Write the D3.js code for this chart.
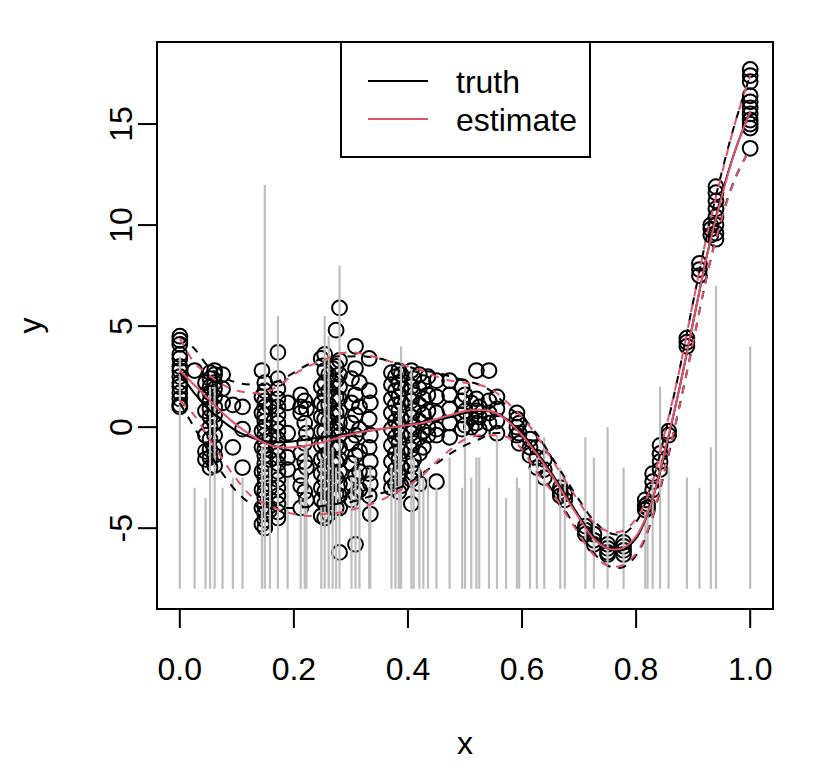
<!DOCTYPE html>
<html><head><meta charset="utf-8">
<script src="https://cdn.jsdelivr.net/npm/d3@7"></script>
<style>body{margin:0;background:#fff}svg{display:block}text{font-family:"Liberation Sans",Arial,Helvetica,sans-serif;fill:#000}</style>
</head><body><svg id="c" width="816" height="768"></svg>
<script>
// ---------- data ----------
const xTicks = [0, 0.2, 0.4, 0.6, 0.8, 1.0];
const yTicks = [-5, 0, 5, 10, 15];
const legendLabels = ["truth", "estimate"];

// weight "needles" (x, top value; drawn up from -8)
const wX   = [0.000,0.026,0.045,0.053,0.061,0.075,0.093,0.110,0.144,0.149,0.158,0.172,0.189,0.212,0.219,0.222,0.248,0.254,0.261,0.268,0.274,0.280,0.301,0.308,0.315,0.332,0.334,0.371,0.378,0.384,0.388,0.406,0.410,0.420,0.427,0.435,0.450,0.473,0.495,0.500,0.511,0.520,0.525,0.542,0.556,0.572,0.591,0.595,0.614,0.626,0.639,0.667,0.675,0.711,0.726,0.750,0.778,0.816,0.820,0.829,0.842,0.857,0.889,0.911,0.931,0.940,1.000];
const wTop = [3.5,-3.0,-3.5,2.0,2.0,-3.0,-2.5,-2.5,-1.0,12.0,-2.0,5.5,-2.5,-3.5,-1.0,0.5,-1.5,5.5,4.5,-1.0,-2.0,8.0,-2.5,-1.5,-2.0,-3.0,-2.0,-2.0,-1.0,1.0,4.0,3.0,-1.5,-2.0,-2.5,-2.5,-3.0,-1.5,-3.0,2.0,-2.5,-1.5,-1.5,-3.0,-0.4,-3.5,-2.5,-3.0,-2.0,-1.5,-0.5,-2.0,-2.5,-0.5,-1.5,0.0,-2.0,-4.2,-4.0,-2.5,2.0,-2.0,-2.5,-3.0,-1.0,7.0,4.0];

// observations: one x per group, list of y
const ptX = [0.000,0.026,0.045,0.053,0.061,0.075,0.093,0.110,0.144,0.149,0.158,0.172,0.189,0.212,0.219,0.222,0.248,0.254,0.261,0.268,0.274,0.280,0.301,0.308,0.315,0.332,0.334,0.371,0.378,0.384,0.388,0.406,0.410,0.420,0.427,0.435,0.450,0.473,0.495,0.500,0.511,0.520,0.525,0.542,0.556,0.591,0.595,0.614,0.626,0.639,0.667,0.675,0.711,0.726,0.750,0.778,0.816,0.820,0.829,0.842,0.857,0.889,0.911,0.931,0.940,1.000];
const ptY = [
 [4.5,4.3,4.1,3.6,3.4,3.0,2.8,2.5,2.2,2.0,1.7,1.4,1.1,1.0],
 [2.8],
 [2.2,1.6,0.8,-0.4,-1.2,-1.6],
 [2.7,2.4,2.0,1.7,1.3,0.9,0.5,0.0,-0.6,-1.1,-1.5,-2.0],
 [2.8,2.6,2.2,1.9,1.5,1.0,0.6,0.2,-0.4,-1.0,-1.4,-1.9],
 [2.6,1.9,1.2],
 [1.1,-1.0],
 [1.0,-0.1,-2.0],
 [2.8,1.5,0.7,-0.2,-1.0,-2.2,-3.1,-4.0,-4.8],
 [2.2,1.8,1.3,1.0,0.6,0.3,0.0,-0.4,-0.7,-1.1,-1.4,-1.8,-2.1,-2.5,-2.8,-3.2,-3.5,-3.9,-4.3,-4.6,-5.0],
 [1.0,-0.5,-1.6,-3.0,-4.1],
 [3.7,2.4,1.9,1.4,1.0,0.6,0.2,-0.2,-0.6,-1.0,-1.4,-1.8,-2.2,-2.6,-3.0,-3.4,-3.8,-4.2,-4.5],
 [1.2,-0.3,-1.5,-2.1],
 [1.6,1.0,0.7,-1.3,-2.4,-2.9,-4.0],
 [1.3,0.2,-0.8,-1.7,-3.2],
 [0.9,-0.3,-2.0,-3.6],
 [3.4,2.0,1.2,0.5,-0.2,-0.9,-1.6,-2.3,-3.0,-3.6,-4.4],
 [3.6,2.8,2.2,1.6,1.0,0.4,-0.2,-0.8,-1.4,-2.0,-2.6,-3.2,-3.8,-4.5],
 [2.6,1.8,1.1,0.3,-0.5,-1.3,-2.1,-2.9,-3.7,-4.3],
 [2.9,2.2,1.4,0.6,-0.2,-1.0,-1.8,-2.6,-3.4],
 [4.8,3.0,2.3,1.5,0.7,-0.1,-0.9,-1.7,-2.5,-3.3,-4.0],
 [5.9,3.3,2.6,2.0,1.4,0.8,0.2,-0.4,-1.0,-1.6,-2.2,-2.8,-3.4,-4.0,-6.2],
 [2.4,1.2,0.2,-0.8,-1.8,-2.8,-3.6],
 [4.0,2.9,1.6,0.6,-0.4,-1.4,-2.4,-3.3,-5.8],
 [2.2,1.0,-0.1,-1.2,-2.2,-3.1],
 [3.4,1.8,0.4,-1.0,-2.3,-3.4],
 [1.2,-0.4,-1.7,-2.8,-4.3],
 [2.7,2.1,1.4,0.7,-0.1,-0.9,-1.7,-2.5,-3.0],
 [2.5,1.8,1.1,0.3,-0.5,-1.3,-2.1,-2.8],
 [2.8,2.2,1.5,0.8,0.0,-0.8,-1.6,-2.4,-3.2],
 [2.6,1.9,1.2,0.4,-0.4,-1.2,-2.0,-2.9],
 [2.8,2.0,1.3,0.5,-0.3,-1.1,-1.9,-2.6,-3.8],
 [2.4,1.6,0.8,0.0,-0.8,-1.6,-2.3],
 [2.6,1.9,1.1,0.3,-0.5,-1.3,-2.8],
 [2.2,1.4,0.6,-0.2,-1.0],
 [2.5,1.6,0.8,0.0,-0.4],
 [2.3,1.5,0.7,-0.1,-0.4,-2.7],
 [2.3,1.6,0.9,0.2,-0.5],
 [2.0,1.3,0.6,-0.1],
 [1.6,0.8,0.1],
 [1.2,0.5,0.0],
 [2.8,1.4,0.8,0.2],
 [1.0,0.5,-0.1],
 [2.8,1.3,0.7,0.2],
 [1.5,0.9,0.3,-0.3],
 [0.7,0.4,0.0,-0.4],
 [0.2,-0.3,-0.8],
 [-0.6,-1.0,-1.4],
 [-1.0,-1.5,-2.0],
 [-1.6,-2.1,-2.5],
 [-3.0,-3.2,-3.4],
 [-3.3,-3.6],
 [-4.9,-5.1,-5.3],
 [-5.3,-5.6,-5.8],
 [-5.8,-6.0,-6.2,-6.3],
 [-5.7,-5.9,-6.1,-6.3],
 [-3.6,-3.9,-4.1],
 [-3.8,-4.0],
 [-2.3,-2.7,-3.1],
 [-0.9,-1.3,-1.7,-2.1],
 [-0.2,-0.4],
 [4.4,4.2,4.0],
 [8.1,7.8,7.5],
 [10.0,9.8,9.5],
 [11.9,11.6,11.2,10.8,10.4,10.0,9.6,9.3],
 [17.7,17.4,17.1,16.4,16.1,15.8,15.5,15.2,15.0,14.8,13.8]
];

// curves on a common x grid
const gridX = [0,0.025,0.05,0.075,0.1,0.125,0.15,0.175,0.2,0.225,0.25,0.275,0.3,0.325,0.35,0.375,0.4,0.425,0.45,0.475,0.5,0.525,0.55,0.575,0.6,0.625,0.65,0.675,0.7,0.725,0.75,0.775,0.8,0.825,0.85,0.875,0.9,0.925,0.95,0.975,1];
const truth    = [2.7,1.7,0.9,0.3,-0.2,-0.5,-0.7,-0.75,-0.7,-0.6,-0.5,-0.4,-0.3,-0.2,-0.1,0.0,0.1,0.2,0.35,0.5,0.7,0.8,0.75,0.35,-0.3,-1.2,-2.2,-3.3,-4.4,-5.4,-6.0,-6.1,-5.5,-3.9,-1.3,1.8,5.2,8.6,11.5,13.8,15.6];
const estimate = [2.8,2.1,1.4,0.7,0.1,-0.4,-0.8,-1.0,-1.0,-0.9,-0.75,-0.55,-0.35,-0.2,-0.1,0.0,0.1,0.2,0.4,0.6,0.8,0.85,0.75,0.3,-0.4,-1.3,-2.3,-3.4,-4.5,-5.5,-6.0,-6.0,-5.4,-3.9,-1.2,1.8,5.2,8.6,11.4,13.8,15.6];
const truthHi  = [4.5,3.9,3.0,2.5,2.2,2.1,2.1,2.3,2.7,3.1,3.4,3.5,3.5,3.5,3.4,3.2,3.0,2.8,2.7,2.5,2.3,2.1,1.7,1.0,0.5,-0.3,-1.4,-2.5,-3.6,-4.6,-5.2,-5.3,-4.7,-3.0,-0.4,2.7,6.2,9.6,12.6,15.2,17.4];
const truthLo  = [1.2,0.0,-1.2,-2.3,-3.2,-3.8,-4.0,-4.0,-4.0,-3.95,-3.9,-3.8,-3.7,-3.5,-3.3,-3.1,-2.8,-2.3,-1.8,-1.3,-0.9,-0.6,-0.3,-0.4,-1.1,-2.1,-3.0,-4.1,-5.2,-6.2,-6.85,-6.95,-6.35,-4.8,-2.2,0.9,4.2,7.6,10.4,12.4,13.8];
const estHi    = [4.4,3.2,2.6,2.1,1.8,1.7,1.7,2.1,2.6,3.0,3.3,3.6,3.7,3.6,3.4,3.2,3.0,2.8,2.5,2.3,2.2,2.1,1.8,1.2,0.5,-0.4,-1.5,-2.6,-3.7,-4.7,-5.15,-5.15,-4.55,-3.05,-0.3,2.7,6.2,9.6,12.5,15.2,17.4];
const estLo    = [1.3,0.6,-0.5,-1.6,-2.6,-3.4,-3.8,-4.1,-4.3,-4.4,-4.3,-4.25,-4.1,-3.9,-3.65,-3.3,-2.9,-2.4,-1.7,-1.1,-0.6,-0.4,-0.4,-0.5,-1.1,-2.2,-3.1,-4.2,-5.3,-6.3,-6.85,-6.85,-6.25,-4.75,-2.1,0.9,4.2,7.6,10.3,12.4,13.8];
const needleBase = -8;

// ---------- drawing ----------
const svg = d3.select("#c");
const L = 157, R = 773, T = 42, B = 609;
const x = d3.scaleLinear().domain([-0.04, 1.04]).range([L, R]);
const y = d3.scaleLinear().domain([-9.0, 19.06]).range([B, T]);
const LW = 2, RED = "#DF536B", FS = 32;

svg.append("rect").attr("width",816).attr("height",768).attr("fill","#fff");

// points
const pts = [];
ptX.forEach((xv,i)=>ptY[i].forEach(yv=>pts.push([xv,yv])));
svg.append("g").selectAll("circle").data(pts).join("circle")
  .attr("cx",d=>x(d[0])).attr("cy",d=>y(d[1])).attr("r",7.4)
  .attr("fill","none").attr("stroke","#000").attr("stroke-width",2);

// needles
svg.append("g").selectAll("line").data(wX.map((v,i)=>[v,wTop[i]])).join("line")
  .attr("x1",d=>x(d[0])).attr("x2",d=>x(d[0]))
  .attr("y1",y(needleBase)).attr("y2",d=>y(d[1]))
  .attr("stroke","#BEBEBE").attr("stroke-width",2.2);

// curves
const line = d3.line().x((d,i)=>x(gridX[i])).y(d=>y(d)).curve(d3.curveCatmullRom.alpha(0.5));
const curve = (arr,col,dash)=>svg.append("path").attr("d",line(arr)).attr("fill","none")
  .attr("stroke",col).attr("stroke-width",LW).attr("stroke-dasharray",dash?"8,8":null);
curve(truth,"#000",false);
curve(truthHi,"#000",true);
curve(truthLo,"#000",true);
curve(estimate,RED,false);
curve(estHi,RED,true);
curve(estLo,RED,true);

// box
svg.append("rect").attr("x",L).attr("y",T).attr("width",R-L).attr("height",B-T)
  .attr("fill","none").attr("stroke","#000").attr("stroke-width",LW);

// axes
const tick = 19;
const gx = svg.append("g");
gx.append("line").attr("x1",x(xTicks[0])).attr("x2",x(xTicks[xTicks.length-1])).attr("y1",B).attr("y2",B).attr("stroke","#000").attr("stroke-width",LW);
xTicks.forEach(t=>{
  gx.append("line").attr("x1",x(t)).attr("x2",x(t)).attr("y1",B).attr("y2",B+tick).attr("stroke","#000").attr("stroke-width",LW);
  gx.append("text").attr("x",x(t)).attr("y",680).attr("text-anchor","middle").attr("font-size",FS).text(d3.format(".1f")(t));
});
const gy = svg.append("g");
gy.append("line").attr("y1",y(yTicks[0])).attr("y2",y(yTicks[yTicks.length-1])).attr("x1",L).attr("x2",L).attr("stroke","#000").attr("stroke-width",LW);
yTicks.forEach(t=>{
  gy.append("line").attr("y1",y(t)).attr("y2",y(t)).attr("x1",L).attr("x2",L-tick).attr("stroke","#000").attr("stroke-width",LW);
  gy.append("text").attr("transform",`translate(131.5,${y(t)}) rotate(-90)`).attr("text-anchor","middle").attr("font-size",FS).text(t);
});
svg.append("text").attr("x",465).attr("y",754).attr("text-anchor","middle").attr("font-size",FS).text("x");
svg.append("text").attr("transform",`translate(41,${(T+B)/2}) rotate(-90)`).attr("text-anchor","middle").attr("font-size",FS).text("y");

// legend
const lg = svg.append("g");
lg.append("rect").attr("x",341).attr("y",T).attr("width",249).attr("height",115).attr("fill","#fff").attr("stroke","#000").attr("stroke-width",LW);
[["#000",81,93],[RED,119,131]].forEach((c,i)=>{
  lg.append("line").attr("x1",368).attr("x2",428).attr("y1",c[1]).attr("y2",c[1]).attr("stroke",c[0]).attr("stroke-width",LW);
  lg.append("text").attr("x",456).attr("y",c[2]).attr("font-size",FS).text(legendLabels[i]);
});
</script></body></html>
